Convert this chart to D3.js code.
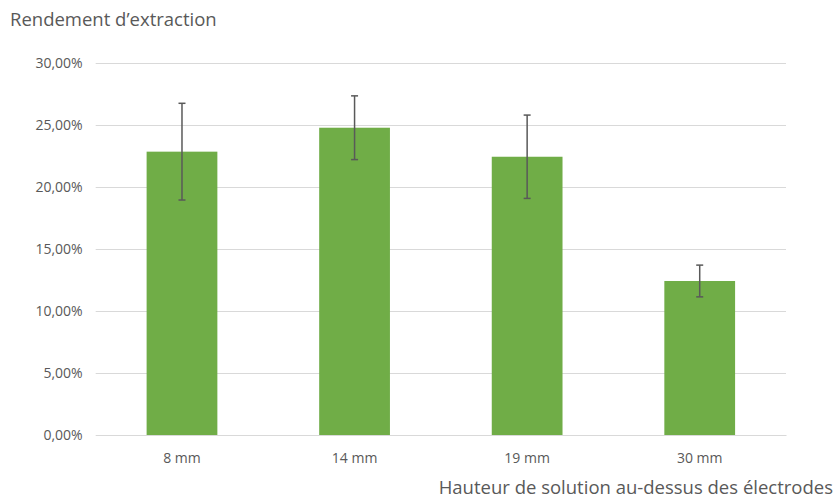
<!DOCTYPE html>
<meta charset="utf-8">
<style>
    body { margin: 0; background: #fff; }
    text { font-family: "Open Sans", sans-serif; fill: #595959; }
    .tick text { font-size: 14px; }
</style>
<body>
<script src="https://d3js.org/d3.v7.min.js"></script>
<script>
    // chart data
    let categories = ["8 mm", "14 mm", "19 mm", "30 mm"];
    let values = [0.2285, 0.2478, 0.2244, 0.1242];
    let errors = [0.039, 0.0257, 0.0336, 0.0128];
    let yTicks = [0, 0.05, 0.10, 0.15, 0.20, 0.25, 0.30];

    let width = 835;
    let height = 500;

    let svg = d3.select("body").append("svg")
        .attr("width", width)
        .attr("height", height);

    let x = d3.scaleBand()
        .domain(categories)
        .range([95.7, 786])
        .paddingInner(0.59)
        .paddingOuter(0.295);

    let y = d3.scaleLinear()
        .domain([0, 0.30])
        .range([435, 63]);

    let fmt = d => d3.format(".2f")(d * 100).replace(".", ",") + "%";

    // gridlines + y labels
    let yAxis = svg.append("g")
        .attr("transform", "translate(95.7,0)")
        .call(d3.axisLeft(y).tickValues(yTicks).tickFormat(fmt).tickSize(-(786 - 95.7)).tickPadding(13));
    yAxis.select(".domain").remove();
    yAxis.selectAll(".tick line").attr("stroke", "#d9d9d9").attr("stroke-width", 1);

    // bars
    svg.append("g").selectAll("rect")
        .data(values)
        .join("rect")
            .attr("x", (d, i) => x(categories[i]))
            .attr("y", d => y(d))
            .attr("width", x.bandwidth())
            .attr("height", d => y(0) - y(d))
            .attr("fill", "#70ad47");

    // x axis
    let xAxis = svg.append("g")
        .attr("transform", "translate(0,435)")
        .call(d3.axisBottom(x).tickSize(0).tickPadding(18));
    xAxis.select(".domain").attr("stroke", "#d9d9d9");

    // error bars
    let eb = svg.append("g").attr("stroke", "#595959").attr("stroke-width", 1.5);
    values.forEach(function(v, i) {
        let cx = x(categories[i]) + x.bandwidth() / 2;
        eb.append("line")
            .attr("x1", cx).attr("x2", cx)
            .attr("y1", y(v + errors[i])).attr("y2", y(v - errors[i]));
        eb.append("line")
            .attr("x1", cx - 3.5).attr("x2", cx + 3.5)
            .attr("y1", y(v + errors[i])).attr("y2", y(v + errors[i]));
        eb.append("line")
            .attr("x1", cx - 3.5).attr("x2", cx + 3.5)
            .attr("y1", y(v - errors[i])).attr("y2", y(v - errors[i]));
    });

    // titles
    svg.append("text")
        .attr("x", 10).attr("y", 26)
        .style("font-size", "18.5px")
        .text("Rendement d’extraction");

    svg.append("text")
        .attr("x", 833).attr("y", 494)
        .attr("text-anchor", "end")
        .style("font-size", "18.5px")
        .text("Hauteur de solution au-dessus des électrodes");
</script>
</body>
